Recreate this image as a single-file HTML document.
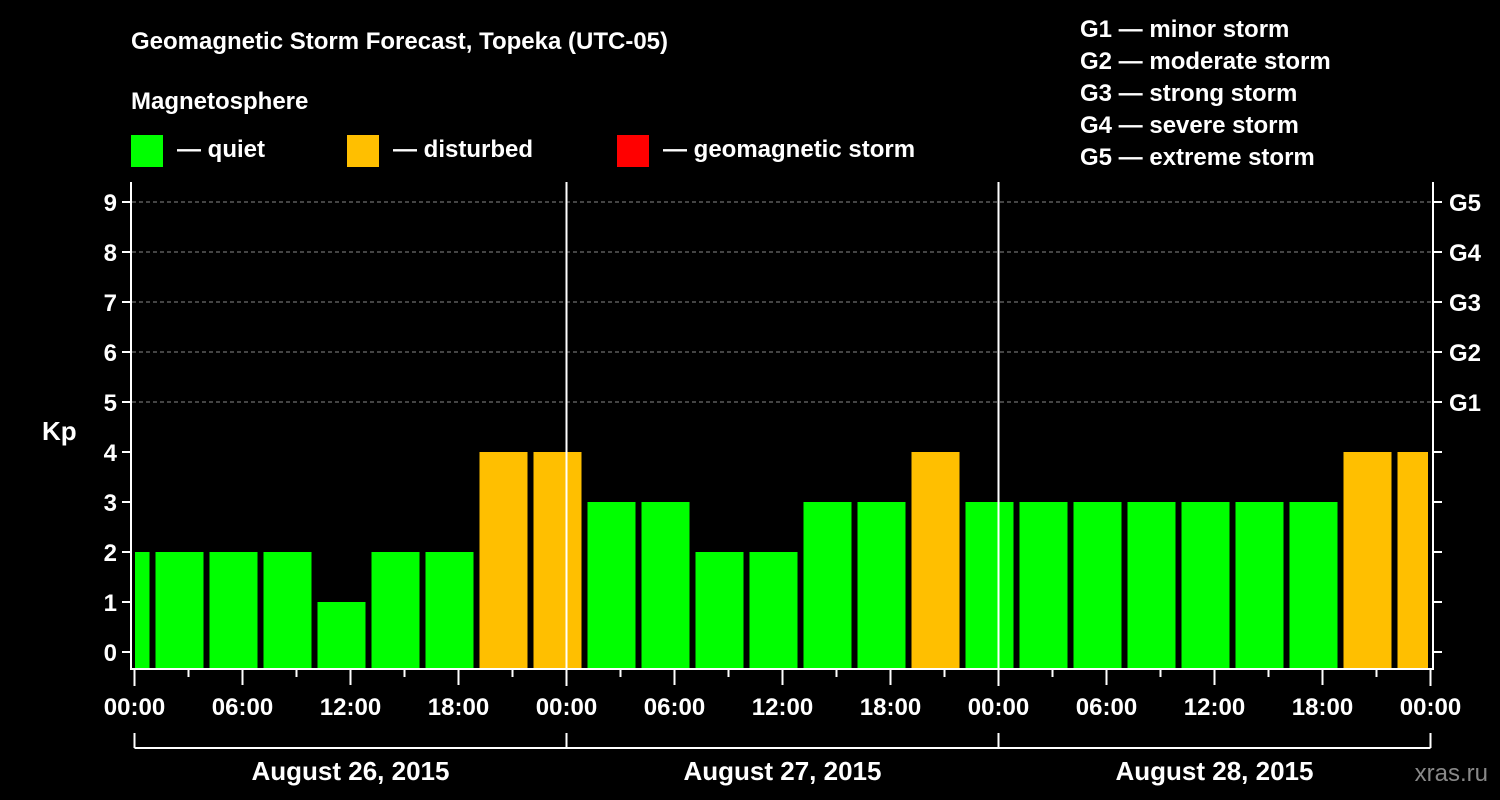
<!DOCTYPE html>
<html><head><meta charset="utf-8"><style>
html,body{margin:0;padding:0;background:#000;}
svg{display:block;font-family:"Liberation Sans",Arial,sans-serif;font-weight:bold;}
</style></head><body>
<svg id="c" width="1500" height="800" viewBox="0 0 1500 800">
<rect width="1500" height="800" fill="#000"/>
<text x="131" y="49" fill="#fff" font-size="24">Geomagnetic Storm Forecast, Topeka (UTC-05)</text>
<text x="131" y="109" fill="#fff" font-size="24">Magnetosphere</text>
<g><rect x="131" y="135" width="32" height="32" fill="#00ff00"/><text x="177" y="157" fill="#fff" font-size="24">— quiet</text></g>
<g><rect x="347" y="135" width="32" height="32" fill="#ffbf00"/><text x="393" y="157" fill="#fff" font-size="24">— disturbed</text></g>
<g><rect x="617" y="135" width="32" height="32" fill="#ff0000"/><text x="663" y="157" fill="#fff" font-size="24">— geomagnetic storm</text></g>
<g fill="#fff" font-size="24">
<text x="1080" y="37">G1 — minor storm</text>
<text x="1080" y="69">G2 — moderate storm</text>
<text x="1080" y="101">G3 — strong storm</text>
<text x="1080" y="133">G4 — severe storm</text>
<text x="1080" y="165">G5 — extreme storm</text>
</g>
<text x="42" y="440" fill="#fff" font-size="26">Kp</text>
<text x="1488" y="781" fill="#888" font-size="24" text-anchor="end" font-weight="normal">xras.ru</text>
<g id="grid"></g><g id="bars"></g><g id="axes"></g>
</svg>
<script>
// Kp values per 3-hour bin; first bin starts 2h before start (local time), hours offset
const binStartHours = [-2,1,4,7,10,13,16,19,22,25,28,31,34,37,40,43,46,49,52,55,58,61,64,67,70];
const kpValues = [2,2,2,2,1,2,2,4,4,3,3,2,2,3,3,4,3,3,3,3,3,3,3,4,4];
const dayLabels = ["August 26, 2015","August 27, 2015","August 28, 2015"];
const yTicks = [0,1,2,3,4,5,6,7,8,9];
const gLabels = ["G1","G2","G3","G4","G5"];
const xTickLabels = ["00:00","06:00","12:00","18:00","00:00","06:00","12:00","18:00","00:00","06:00","12:00","18:00","00:00"];

const NS="http://www.w3.org/2000/svg";
const X0=134.5,X1=1430.5,H0=0,H1=72,Y0=652,PY=50,BOTTOM=668,TOP=182;
const x=h=>X0+(h-H0)*(X1-X0)/(H1-H0);
const y=v=>Y0-v*PY;
function mk(p,t,a){const e=document.createElementNS(NS,t);for(const k in a)e.setAttribute(k,a[k]);p.appendChild(e);return e;}
const grid=document.getElementById('grid'),bars=document.getElementById('bars'),axes=document.getElementById('axes');
[5,6,7,8,9].forEach(v=>{const l=mk(grid,'line',{x1:132,x2:1432,y1:y(v),y2:y(v),stroke:'#888','stroke-width':1,'stroke-dasharray':'4,3'});

});
kpValues.forEach((v,i)=>{
  let a=x(binStartHours[i])+3,b=x(binStartHours[i]+3)-3;
  a=Math.max(a,135);b=Math.min(b,1428);
  const col=v>=5?'#ff0000':(v>=4?'#ffbf00':'#00ff00');
  const r=mk(bars,'rect',{x:a,y:y(v),width:b-a,height:BOTTOM-y(v),fill:col});
  
  
});
// axes frame
mk(axes,'polyline',{points:`131,182 131,669 1433,669 1433,182`,fill:'none',stroke:'#fff','stroke-width':2});
[24,48].forEach(h=>{const l=mk(axes,'line',{x1:x(h),x2:x(h),y1:TOP,y2:669,stroke:'#fff','stroke-width':2});

});
yTicks.forEach(v=>{
  mk(axes,'line',{x1:122,x2:131,y1:y(v),y2:y(v),stroke:'#fff','stroke-width':2});
  mk(axes,'line',{x1:1433,x2:1442,y1:y(v),y2:y(v),stroke:'#fff','stroke-width':2});
  const t=mk(axes,'text',{x:117,y:y(v)+9,fill:'#fff','font-size':24,'text-anchor':'end'});t.textContent=v;
  
  
});
gLabels.forEach((g,i)=>{const t=mk(axes,'text',{x:1449,y:y(5+i)+9,fill:'#fff','font-size':24});t.textContent=g;

});
for(let h=0;h<=72;h+=3){
  const len=h%24===0?17:(h%6===0?16:8);
  mk(axes,'line',{x1:x(h),x2:x(h),y1:669,y2:669+len,stroke:'#fff','stroke-width':2});
}
xTickLabels.forEach((s,i)=>{const t=mk(axes,'text',{x:x(i*6),y:715,fill:'#fff','font-size':24,'text-anchor':'middle'});t.textContent=s;

});
mk(axes,'line',{x1:x(0),x2:x(72),y1:748,y2:748,stroke:'#fff','stroke-width':2});
[0,24,48,72].forEach(h=>mk(axes,'line',{x1:x(h),x2:x(h),y1:733,y2:748,stroke:'#fff','stroke-width':2}));
dayLabels.forEach((s,i)=>{const t=mk(axes,'text',{x:x(i*24+12),y:780,fill:'#fff','font-size':26,'text-anchor':'middle'});t.textContent=s;

});
</script>
</body></html>
